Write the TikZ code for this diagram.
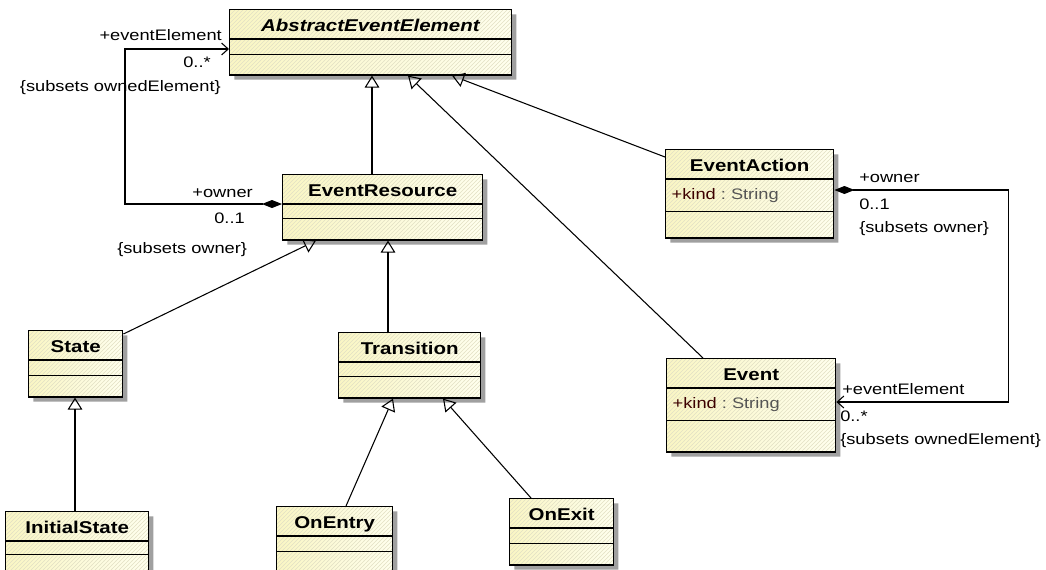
\documentclass[tikz,border=0pt]{standalone}
\usepackage{fontspec}
\setmainfont{Liberation Sans}[FakeStretch=1.2]
\usepackage{tikz}
\usetikzlibrary{arrows.meta, calc, shapes.multipart, shadows, patterns}
\definecolor{clsL}{RGB}{250,246,196}
\definecolor{clsR}{RGB}{255,255,238}
\definecolor{clsH}{RGB}{226,224,196}
\definecolor{clsS}{RGB}{160,160,160}
\definecolor{attrK}{RGB}{60,0,0}
\definecolor{attrT}{RGB}{85,85,85}
\newdimen\pxu \pxu=0.75pt
% class compartments: title strip, empty strips, attribute strip
\newcommand{\clsttl}[2]{\makebox[#1\pxu]{\rule[-7\pxu]{0pt}{28\pxu}{\fontsize{12.8}{15}\selectfont\bfseries #2}}}
\newcommand{\clsgap}[1]{\rule{0pt}{#1\pxu}}
\newcommand{\clsattr}[1]{\makebox[#1\pxu][l]{\rule[-11\pxu]{0pt}{31\pxu}\hspace{6\pxu}\textcolor{attrK}{+kind}\textcolor{attrT}{\ :\ String}}}
\tikzset{
  cls/.style={rectangle split, rectangle split parts=3, draw=black, line width=1.05pt,
    inner xsep=0pt, inner ysep=0pt,
    drop shadow={shadow xshift=3.5pt, shadow yshift=-3.5pt, fill=clsS, opacity=1},
    preaction={left color=clsL, right color=clsR},
    preaction={pattern=north east lines, pattern color=clsH},
    anchor=north west, font=\fontsize{11.4}{13}\selectfont},
  gen/.style={-{Triangle[open, length=9pt, width=11pt]}, line width=0.8pt},
  assoc/.style={{Diamond[length=15pt, width=6pt]}-{Straight Barb[length=5pt, width=9pt]}, line width=0.8pt},
  lbl/.style={inner sep=0pt, font=\fontsize{11.4}{13}\selectfont}
}

\begin{document}
\begin{tikzpicture}[x=0.75pt, y=-0.75pt]
\useasboundingbox (0,0) rectangle (1046,569);
% classes, placed by their north-west corners (pixel grid, y down)
\node[cls] (aee) at (229,9) {\clsttl{282}{\textit{AbstractEventElement}}\nodepart{two}\clsgap{14}\nodepart{three}\clsgap{19}};
\node[cls] (eres) at (282,174) {\clsttl{200}{EventResource}\nodepart{two}\clsgap{13}\nodepart{three}\clsgap{20}};
\node[cls] (eact) at (665,149) {\clsttl{168}{EventAction}\nodepart{two}\clsattr{168}\nodepart{three}\clsgap{25}};
\node[cls] (evt) at (666,358) {\clsttl{169}{Event}\nodepart{two}\clsattr{169}\nodepart{three}\clsgap{30}};
\node[cls] (state) at (28,330) {\clsttl{94}{State}\nodepart{two}\clsgap{14}\nodepart{three}\clsgap{20}};
\node[cls] (trans) at (338,332) {\clsttl{142}{Transition}\nodepart{two}\clsgap{13}\nodepart{three}\clsgap{20}};
\node[cls] (inist) at (5,511) {\clsttl{143}{InitialState}\nodepart{two}\clsgap{12}\nodepart{three}\clsgap{30}};
\node[cls] (onentry) at (276,506) {\clsttl{116}{OnEntry}\nodepart{two}\clsgap{14}\nodepart{three}\clsgap{19}};
\node[cls] (onexit) at (509,498) {\clsttl{104}{OnExit}\nodepart{two}\clsgap{14}\nodepart{three}\clsgap{20}};
% generalizations, child -> parent
\draw[gen] ($(eres.north west)+(90,0)$) -- ($(aee.south west)+(143,0)$);
\draw[gen] ($(evt.north west)+(37,0)$) -- ($(aee.south west)+(179,0)$);
\draw[gen] ($(eact.north west)+(0,8)$) -- ($(aee.south west)+(223,0)$);
\draw[gen] ($(state.north east)+(0,4)$) -- ($(eres.south west)+(34,0)$);
\draw[gen] ($(trans.north west)+(50,0)$) -- ($(eres.south west)+(106,0)$);
\draw[gen] ($(inist.north west)+(70,0)$) -- ($(state.south west)+(47,0)$);
\draw[gen] ($(onentry.north west)+(70,0)$) -- ($(trans.south west)+(55,0)$);
\draw[gen] ($(onexit.north west)+(22,0)$) -- ($(trans.south west)+(105,0)$);
% composite owner -> owned eventElement
\draw[assoc] ($(eres.north west)+(0,30)$) -- ++(-157,0) |- ($(aee.north west)+(0,40)$);
\draw[assoc] ($(eact.north east)+(0,41)$) -- ++(174,0) |- ($(evt.north east)+(0,44)$);
% role ends, left loop
\node[lbl, anchor=base east] (ownEl1) at (222,40.5) {+eventElement};
\node[lbl, anchor=base east] (mulEl1) at (211,67) {0..*};
\node[lbl, anchor=base east] (subEl1) at (221,91) {\{subsets ownedElement\}};
\node[lbl, anchor=base east] (owner1) at (253,197) {+owner};
\node[lbl, anchor=base east] (mulOw1) at (245,223.5) {0..1};
\node[lbl, anchor=base west] (subOw1) at (117,253) {\{subsets owner\}};
% role ends, right loop
\node[lbl, anchor=base west] (owner2) at (859,182) {+owner};
\node[lbl, anchor=base west] (mulOw2) at (859,209.5) {0..1};
\node[lbl, anchor=base west] (subOw2) at (859,232) {\{subsets owner\}};
\node[lbl, anchor=base west] (ownEl2) at (842,394.5) {+eventElement};
\node[lbl, anchor=base west] (mulEl2) at (840,421) {0..*};
\node[lbl, anchor=base west] (subEl2) at (840,444) {\{subsets ownedElement\}};
\end{tikzpicture}
\end{document}
